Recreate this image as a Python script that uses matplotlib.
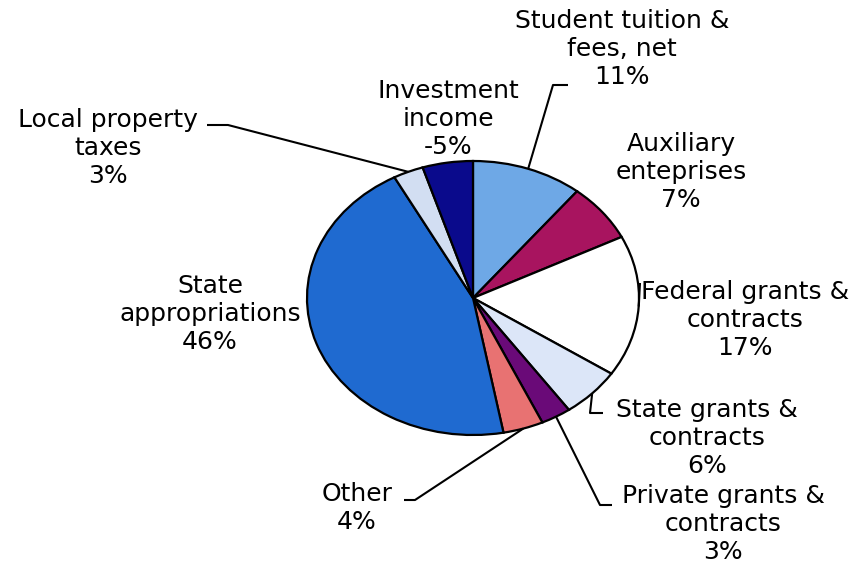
import matplotlib.pyplot as plt
import numpy as np

# revenue shares, clockwise from 12 o'clock
labels = ['Student tuition &\nfees, net', 'Auxiliary\nenteprises', 'Federal grants &\ncontracts',
          'State grants &\ncontracts', 'Private grants &\ncontracts', 'Other',
          'State\nappropriations', 'Local property\ntaxes', 'Investment\nincome']
shares = [11, 7, 17, 6, 3, 4, 46, 3, -5]
colors = ['#6EA8E6', '#A8145F', '#FFFFFF', '#DCE6F8', '#6A0A78', '#E87272',
          '#1F6AD0', '#D2DEF2', '#0A0A8C']

# pie placement in pixels (centre, horizontal and vertical radius)
W, H = 868, 567
cx, cy, rx, ry = 473, 298, 166, 137


def px(x, y):
    return (x - cx) / rx, (cy - y) / ry


# label centres and leader elbows (pixels)
text_pos = [(622, 49), (681, 172), (745, 320), (707, 438), (723, 524),
            (357, 508), (210, 314), (108, 148), (448, 119)]
leaders = [[(553, 85), (568, 85)], None, [(640, 283)], [(590, 413), (603, 413)],
           [(600, 505), (612, 505)], [(415, 500), (404, 500)], None,
           [(228, 125), (207, 125)], None]

fig = plt.figure(figsize=(W / 100, H / 100), dpi=100)
ax = fig.add_axes([0, 0, 1, 1])
wedges, _ = ax.pie(np.abs(shares), colors=colors, startangle=90, counterclock=False,
                   radius=1, wedgeprops=dict(edgecolor='black', linewidth=1.6))
ax.set_aspect('auto')
ax.set_xlim(-cx / rx, (W - cx) / rx)
ax.set_ylim(-(H - cy) / ry, cy / ry)
ax.axis('off')

for w, lab, s, pos, lead in zip(wedges, labels, shares, text_pos, leaders):
    ax.text(*px(*pos), f'{lab}\n{s}%', ha='center', va='center', fontsize=18,
            family='DejaVu Sans', linespacing=1.22, color='black')
    if lead:
        mid = np.deg2rad((w.theta1 + w.theta2) / 2)
        pts = [(np.cos(mid), np.sin(mid))] + [px(*p) for p in lead]
        xs, ys = zip(*pts)
        ax.plot(xs, ys, color='black', lw=1.5, solid_capstyle='butt')

fig.savefig('out.png', dpi=100)
